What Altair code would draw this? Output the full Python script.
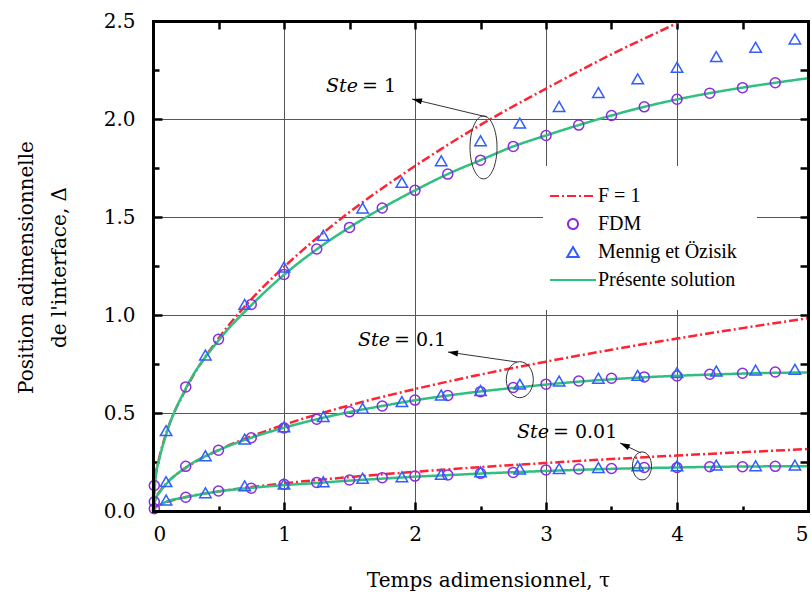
import altair as alt
import pandas as pd

# ---------------- data ----------------
SERIES = ["F = 1", "FDM", "Mennig et Özisik", "Présente solution"]

# F = 1 curves
tau_F_ste1 = [0, 0.02, 0.05, 0.1, 0.25, 0.5, 0.75, 1, 1.5, 2, 2.5, 3, 3.5, 4, 4.03]
F_ste1 = [0, 0.176, 0.278, 0.394, 0.62, 0.88, 1.08, 1.245, 1.525, 1.76, 1.97, 2.155, 2.33, 2.49, 2.5]
tau_F = [0, 0.02, 0.05, 0.1, 0.25, 0.5, 0.75, 1, 1.5, 2, 2.5, 3, 3.5, 4, 4.5, 5]
F_ste01 = [0, 0.062, 0.098, 0.139, 0.22, 0.311, 0.381, 0.44, 0.539, 0.622, 0.696, 0.762, 0.823, 0.88, 0.933, 0.984]
F_ste001 = [0, 0.02, 0.032, 0.045, 0.071, 0.10, 0.122, 0.141, 0.173, 0.20, 0.224, 0.245, 0.265, 0.283, 0.30, 0.316]

# Présente solution
tau_S = [0, 0.02, 0.05, 0.1, 0.25, 0.5, 0.75, 1, 1.25, 1.5, 1.75, 2, 2.25, 2.5,
         2.75, 3, 3.25, 3.5, 3.75, 4, 4.25, 4.5, 4.75, 5]
S_ste1 = [0, 0.17, 0.27, 0.39, 0.625, 0.87, 1.05, 1.205, 1.335, 1.447, 1.546, 1.636,
          1.719, 1.79, 1.86, 1.916, 1.969, 2.018, 2.062, 2.10, 2.132, 2.16, 2.185, 2.208]
S_ste01 = [0, 0.06, 0.095, 0.137, 0.222, 0.31, 0.374, 0.425, 0.468, 0.505, 0.536, 0.565,
           0.589, 0.61, 0.628, 0.645, 0.66, 0.672, 0.682, 0.69, 0.696, 0.701, 0.705, 0.707]
S_ste001 = [0, 0.018, 0.03, 0.047, 0.07, 0.1, 0.118, 0.132, 0.143, 0.155, 0.165, 0.175,
            0.183, 0.191, 0.198, 0.204, 0.21, 0.215, 0.219, 0.222, 0.225, 0.227, 0.228, 0.229]

# FDM (circles)
tau_FDM = [0.01, 0.25, 0.5, 0.75, 1.0, 1.25, 1.5, 1.75, 2.0, 2.25, 2.5, 2.75, 3.0,
           3.25, 3.5, 3.75, 4.0, 4.25, 4.5, 4.75]
FDM_ste1 = [0.13, 0.633, 0.876, 1.054, 1.207, 1.337, 1.447, 1.546, 1.636, 1.719, 1.79,
            1.86, 1.916, 1.969, 2.018, 2.062, 2.101, 2.132, 2.16, 2.185]
FDM_ste01 = [0.047, 0.228, 0.31, 0.374, 0.424, 0.468, 0.506, 0.536, 0.566, 0.589, 0.609,
             0.63, 0.647, 0.663, 0.677, 0.684, 0.689, 0.698, 0.703, 0.709]
FDM_ste001 = [0.012, 0.07, 0.102, 0.116, 0.136, 0.146, 0.158, 0.17, 0.178, 0.184, 0.192,
              0.197, 0.209, 0.214, 0.217, 0.222, 0.222, 0.226, 0.226, 0.228]

# Mennig et Özisik (triangles)
tau_MO = [0.1, 0.4, 0.7, 1.0, 1.3, 1.6, 1.9, 2.2, 2.5, 2.8, 3.1, 3.4, 3.7, 4.0, 4.3, 4.6, 4.9]
MO_ste1 = [0.41, 0.796, 1.054, 1.244, 1.407, 1.546, 1.677, 1.787, 1.889, 1.979, 2.064,
           2.135, 2.205, 2.264, 2.318, 2.366, 2.408]
MO_ste01 = [0.15, 0.282, 0.367, 0.43, 0.482, 0.524, 0.558, 0.592, 0.615, 0.647, 0.663,
            0.677, 0.692, 0.706, 0.714, 0.719, 0.723]
MO_ste001 = [0.056, 0.093, 0.128, 0.137, 0.149, 0.167, 0.175, 0.187, 0.20, 0.214, 0.217,
             0.222, 0.231, 0.23, 0.234, 0.231, 0.234]

# annotations: label anchor, arrow (start near ellipse -> tip near label), ellipse centre
ann_text = ["= 1", "= 0.1", "= 0.01"]
ann_tau = [1.58, 1.824, 3.038]
ann_delta = [2.168, 0.872, 0.405]
arrow_tau0 = [2.55, 2.779, 3.725]
arrow_delta0 = [2.01, 0.760, 0.296]
arrow_tau1 = [1.977, 2.252, 3.565]
arrow_delta1 = [2.102, 0.811, 0.347]
arrow_angle = [284, 278, 295]
ell_tau = [2.523, 2.80, 3.733]
ell_delta = [1.855, 0.67, 0.23]

# tick / grid positions
x_major = [0, 1, 2, 3, 4, 5]
x_minor = [0.5, 1.5, 2.5, 3.5, 4.5]
x_top = [0.5, 1, 1.5, 2, 2.5, 3, 3.5, 4, 4.5]
x_grid = [1, 2, 3, 4]
y_major = [0, 0.5, 1, 1.5, 2, 2.5]
y_minor = [0.25, 0.75, 1.25, 1.75, 2.25]
y_right = [0.25, 0.5, 0.75, 1, 1.25, 1.5, 1.75, 2, 2.25]
y_grid = [0.5, 1, 1.5, 2]

# ---------------- styling ----------------
RED, PURPLE, BLUE, GREEN = "#ff2232", "#8a2be2", "#2f5dff", "#2fbf7f"
SERIF = "DejaVu Serif"
TIMES = "Liberation Serif, Times New Roman, serif"
ELL_W = [27, 27, 19]
ELL_H = [63, 36, 28]
LEGEND_LINE = "M-4.6,0 L4.6,0"

# ---------------- tables ----------------
def curve_rows(series, groups):
    rows = []
    for ste, taus, vals in groups:
        for t, v in zip(taus, vals):
            rows.append({"tau": t, "delta": v, "series": series, "ste": ste})
    return rows

df_F = pd.DataFrame(curve_rows("F = 1", [("1", tau_F_ste1, F_ste1), ("0.1", tau_F, F_ste01),
                                         ("0.01", tau_F, F_ste001)]))
df_S = pd.DataFrame(curve_rows("Présente solution", [("1", tau_S, S_ste1), ("0.1", tau_S, S_ste01),
                                                     ("0.01", tau_S, S_ste001)]))
df_FDM = pd.DataFrame(curve_rows("FDM", [("1", tau_FDM, FDM_ste1), ("0.1", tau_FDM, FDM_ste01),
                                         ("0.01", tau_FDM, FDM_ste001)]))
df_MO = pd.DataFrame(curve_rows("Mennig et Özisik", [("1", tau_MO, MO_ste1), ("0.1", tau_MO, MO_ste01),
                                                     ("0.01", tau_MO, MO_ste001)]))
df_ann = pd.DataFrame({"tau": ann_tau, "delta": ann_delta, "txt": ann_text,
                       "tau0": arrow_tau0, "delta0": arrow_delta0,
                       "tau1": arrow_tau1, "delta1": arrow_delta1, "ang": arrow_angle})

x_scale = alt.Scale(domain=[0, 5], nice=False, zero=False)
y_scale = alt.Scale(domain=[0, 2.5], nice=False, zero=False)

legend = alt.Legend(title=None, orient="none", legendX=390, legendY=145, fillColor="white",
                    padding=20, labelFont=TIMES, labelFontSize=20, labelColor="black",
                    symbolStrokeWidth=2, labelOffset=15, rowPadding=8)
color = alt.Color("series:N", scale=alt.Scale(domain=SERIES, range=[RED, PURPLE, BLUE, GREEN]), legend=legend)
shape = alt.Shape("series:N", scale=alt.Scale(domain=SERIES, range=[LEGEND_LINE, "circle", "triangle-up", LEGEND_LINE]), legend=legend)
size = alt.Size("series:N", scale=alt.Scale(type="ordinal", domain=SERIES, range=[100, 100, 130, 100]), legend=legend)
dash = alt.StrokeDash("series:N", scale=alt.Scale(domain=SERIES, range=[[9, 3, 2, 3], [1, 0], [1, 0], [1, 0]]), legend=legend)

# axes
ax_x_major = alt.Axis(orient="bottom", values=x_major, format="d", tickSize=9, offset=-9,
                      labelPadding=13, grid=False, title="Temps adimensionnel, τ",
                      titleX=335, titleY=78, titleBaseline="middle", titleAlign="center")
ax_y_major = alt.Axis(orient="left", values=y_major, format=".1f", tickSize=9, offset=-9,
                      labelPadding=18, grid=False, title=["Position adimensionnelle", "de l'interface, Δ"],
                      titleLineHeight=33, titleX=-136, titleY=246, titleBaseline="middle",
                      titleAlign="center", titleAngle=270)
ax_x_minor = alt.Axis(orient="bottom", values=x_minor, tickSize=5, offset=-5,
                      labels=False, grid=False, title=None)
ax_y_minor = alt.Axis(orient="left", values=y_minor, tickSize=6, offset=-6,
                      labels=False, grid=False, title=None)
ax_x_top = alt.Axis(orient="top", values=x_top, tickSize=8, offset=-8,
                    labels=False, grid=False, title=None)
ax_y_right = alt.Axis(orient="right", values=y_right, tickSize=8,
                      offset=-8, labels=False, grid=False, title=None)
ax_x_grid = alt.Axis(orient="bottom", values=x_grid, ticks=False, labels=False, grid=True, title=None)
ax_y_grid = alt.Axis(orient="left", values=y_grid, ticks=False, labels=False, grid=True, title=None)
frame_kw = dict(domain=True, domainColor="black", domainWidth=3, domainCap="square",
                ticks=False, labels=False, grid=False, title=None, zindex=1)
ax_x_frame_b = alt.Axis(orient="bottom", **frame_kw)
ax_y_frame_l = alt.Axis(orient="left", **frame_kw)
ax_x_frame_t = alt.Axis(orient="top", **frame_kw)
ax_y_frame_r = alt.Axis(orient="right", **frame_kw)

f_layer = alt.Chart(df_F).mark_line(strokeWidth=2.5, interpolate="monotone").encode(
    x=alt.X("tau:Q", scale=x_scale, axis=ax_x_major),
    y=alt.Y("delta:Q", scale=y_scale, axis=ax_y_major),
    color=color, strokeDash=dash, detail="ste:N")

s_layer = alt.Chart(df_S).mark_line(strokeWidth=2.5, interpolate="monotone").encode(
    x=alt.X("tau:Q", scale=x_scale, axis=ax_x_minor),
    y=alt.Y("delta:Q", scale=y_scale, axis=ax_y_minor),
    color=color, strokeDash=dash, detail="ste:N")

fdm_layer = alt.Chart(df_FDM).mark_point(filled=False, strokeWidth=1.5, opacity=1).encode(
    x=alt.X("tau:Q", scale=x_scale, axis=ax_x_top),
    y=alt.Y("delta:Q", scale=y_scale, axis=ax_y_right),
    color=color, shape=shape, size=size)

mo_layer = alt.Chart(df_MO).mark_point(filled=False, strokeWidth=1.5, opacity=1).encode(
    x=alt.X("tau:Q", scale=x_scale, axis=ax_x_frame_b),
    y=alt.Y("delta:Q", scale=y_scale, axis=ax_y_frame_l),
    color=color, shape=shape, size=size)

arrow_lines = alt.Chart(df_ann).mark_rule(color="#333333", strokeWidth=1).encode(
    x=alt.X("tau0:Q", scale=x_scale, axis=ax_x_frame_t), y=alt.Y("delta0:Q", scale=y_scale, axis=ax_y_frame_r),
    x2="tau1:Q", y2="delta1:Q")

arrow_heads = alt.Chart(df_ann).mark_point(filled=True, color="black", opacity=1, strokeWidth=0).encode(
    x=alt.X("tau1:Q", scale=x_scale, axis=ax_x_grid), y=alt.Y("delta1:Q", scale=y_scale, axis=ax_y_grid),
    angle=alt.Angle("ang:Q", scale=None),
    shape=alt.value("M0,0 L0.6,2 L-0.6,2 Z"), size=alt.value(100))

ste_text = alt.Chart(df_ann).mark_text(text="Ste", font=SERIF, fontSize=19, fontStyle="italic",
                                       align="right", baseline="middle", color="black", dx=-2).encode(
    x=alt.X("tau:Q", scale=x_scale, axis=None), y=alt.Y("delta:Q", scale=y_scale, axis=None))
val_text = alt.Chart(df_ann).mark_text(font=SERIF, fontSize=19, align="left", baseline="middle",
                                       color="black", dx=2).encode(
    x=alt.X("tau:Q", scale=x_scale, axis=None), y=alt.Y("delta:Q", scale=y_scale, axis=None),
    text="txt:N")

ellipses = []
for i in range(3):
    rx = ELL_W[i] / ELL_H[i]
    path = f"M{-rx},0 A{rx},1 0 1,0 {rx},0 A{rx},1 0 1,0 {-rx},0 Z"
    d = pd.DataFrame({"tau": [ell_tau[i]], "delta": [ell_delta[i]]})
    ellipses.append(alt.Chart(d).mark_point(filled=False, color="#333333", strokeWidth=1, opacity=1).encode(
        x=alt.X("tau:Q", scale=x_scale, axis=None), y=alt.Y("delta:Q", scale=y_scale, axis=None),
        shape=alt.value(path), size=alt.value(ELL_H[i] ** 2)))

chart = alt.layer(f_layer, s_layer, fdm_layer, mo_layer, arrow_lines, arrow_heads, ste_text, val_text,
                  *ellipses).resolve_axis(x="independent", y="independent").properties(
    width=655, height=490,
    autosize=alt.AutoSizeParams(type="none"),
    padding={"left": 153, "top": 21, "right": 3, "bottom": 89},
    background="white",
).configure_view(strokeWidth=0).configure_axis(
    domain=False, labelFont=SERIF, labelFontSize=20, labelColor="black",
    titleFont=SERIF, titleFontSize=20, titleFontWeight="normal", titleColor="black",
    tickColor="black", tickWidth=2.5, gridColor="#555555", gridWidth=1)

chart.save("out.html", embed_options={"renderer": "svg", "actions": False})
